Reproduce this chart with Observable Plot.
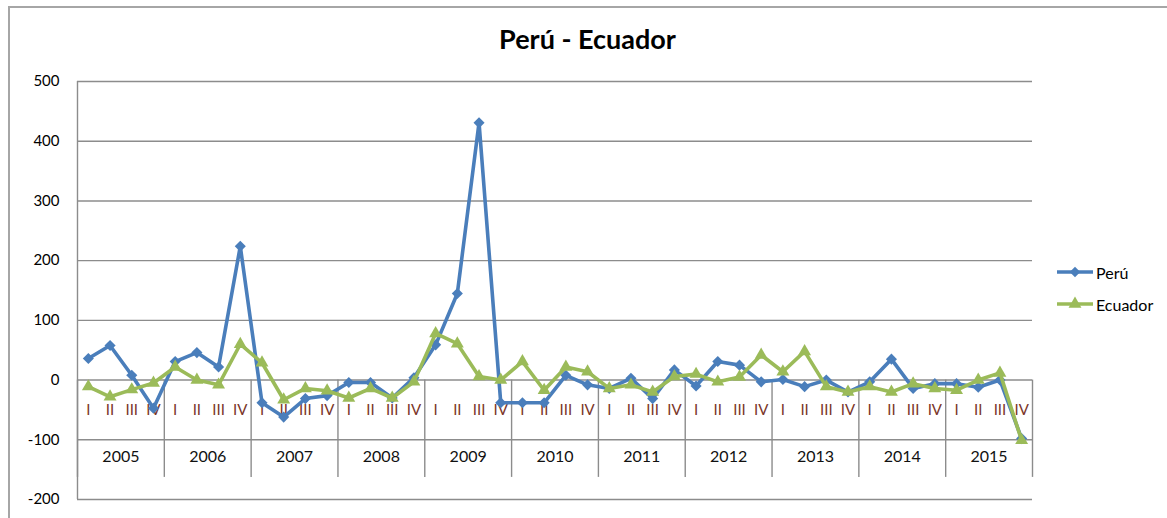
<!DOCTYPE html>
<html><head><meta charset="utf-8">
<script src="https://cdn.jsdelivr.net/npm/d3@7"></script>
<script src="https://cdn.jsdelivr.net/npm/@observablehq/plot@0.6"></script>
<style>
body{margin:0;background:#fff;font-family:Lato,"Open Sans",sans-serif;}
#wrap{position:relative;width:1167px;height:518px;overflow:hidden;}
#frame{position:absolute;left:8px;top:6px;width:2000px;height:2000px;border-left:2px solid #a6a6a6;border-top:2px solid #a6a6a6;}
#chart{position:absolute;left:0;top:0;}
#title{position:absolute;left:0;width:1175px;top:22px;text-align:center;font-weight:bold;font-size:27px;color:#000;}
#legend{position:absolute;left:1057px;top:261px;font-size:16px;color:#000;}
#legend .item{display:flex;align-items:center;height:22px;margin-bottom:10px;}
#legend svg{margin-right:3px;}
</style></head>
<body><div id="wrap"><div id="frame"></div><div id="chart"></div><div id="title">Perú - Ecuador</div><div id="legend"></div></div>
<script>
const years = [2005, 2006, 2007, 2008, 2009, 2010, 2011, 2012, 2013, 2014, 2015];
const quarters = ["I", "II", "III", "IV"];
const seriesNames = ["Perú", "Ecuador"];
const seriesColors = ["#4A7EBB", "#9BBB59"];
const peru = [36, 58, 8, -47, 31, 46, 22, 224, -38, -62, -31, -26,
  -4, -4, -30, 4, 59, 145, 431, -38, -38, -38, 8, -8,
  -14, 3, -31, 17, -10, 31, 25, -3, 1, -11, 0, -20,
  -3, 35, -14, -6, -6, -12, 0, -98];
const ecuador = [-11, -28, -16, -5, 22, 0, -8, 60, 29, -33, -14, -18,
  -30, -14, -30, -3, 78, 61, 6, 0, 31, -17, 22, 14,
  -14, -8, -20, 6, 10, -3, 5, 42, 14, 48, -11, -20,
  -11, -20, -6, -14, -17, 0, 12, -101];
const yTicks = [-200, -100, 0, 100, 200, 300, 400, 500];

const rows = peru.map((v, i) => ({
  pos: i + 0.5,
  q: quarters[i % 4],
  year: years[Math.floor(i / 4)],
  peru: v,
  ecuador: ecuador[i]
}));
const yearRows = years.map((y, k) => ({year: y, pos: k * 4 + 2}));
const separators = d3.range(0, years.length * 4 + 1, 4);

const chart = Plot.plot({
  width: 1167,
  height: 518,
  marginLeft: 77,
  marginRight: 135,
  marginTop: 81,
  marginBottom: 19,
  style: {fontFamily: "Lato, 'Open Sans', sans-serif", fontSize: "15px", color: "#000", background: "transparent"},
  x: {domain: [0, years.length * 4], axis: null},
  y: {domain: [-200, 500], axis: null},
  marks: [
    Plot.ruleY(yTicks, {stroke: "#8c8c8c", strokeWidth: 1.4}),
    Plot.ruleX([0], {y1: -200, y2: 500, stroke: "#8c8c8c", strokeWidth: 1.4}),
    Plot.ruleX(separators, {y1: 0, y2: -163, stroke: "#8c8c8c", strokeWidth: 1.4}),
    Plot.text(rows, {x: "pos", y: 0, text: "q", dy: 30, fill: "#7a3528", fontSize: 15}),
    Plot.text(yearRows, {x: "pos", y: 0, text: d => String(d.year), dy: 77, fill: "#111", fontSize: 16}),
    Plot.axisY({ticks: yTicks, tickSize: 0, tickPadding: 18, fontSize: 15, tickFormat: d => String(d)}),
    Plot.line(rows, {x: "pos", y: "peru", stroke: seriesColors[0], strokeWidth: 3.6, strokeLinejoin: "round"}),
    Plot.dot(rows, {x: "pos", y: "peru", symbol: "diamond2", r: 5, fill: seriesColors[0], stroke: "none"}),
    Plot.line(rows, {x: "pos", y: "ecuador", stroke: seriesColors[1], strokeWidth: 3.6, strokeLinejoin: "round"}),
    Plot.dot(rows, {x: "pos", y: "ecuador", symbol: "triangle", r: 4.8, fill: seriesColors[1], stroke: "none"})
  ]
});
document.getElementById("chart").appendChild(chart);

const legend = document.getElementById("legend");
const symbols = [d3.symbolDiamond2, d3.symbolTriangle];
seriesNames.forEach((name, k) => {
  const item = document.createElement("div");
  item.className = "item";
  const s = d3.create("svg").attr("width", 36).attr("height", 20);
  s.append("line").attr("x1", 0).attr("x2", 36).attr("y1", 10).attr("y2", 10)
    .attr("stroke", seriesColors[k]).attr("stroke-width", 3.6);
  s.append("path").attr("transform", "translate(18,10)")
    .attr("d", d3.symbol(symbols[k], k === 0 ? 70 : 72)()).attr("fill", seriesColors[k]);
  item.appendChild(s.node());
  const t = document.createElement("span");
  t.textContent = name;
  item.appendChild(t);
  legend.appendChild(item);
});
</script>
</body></html>
